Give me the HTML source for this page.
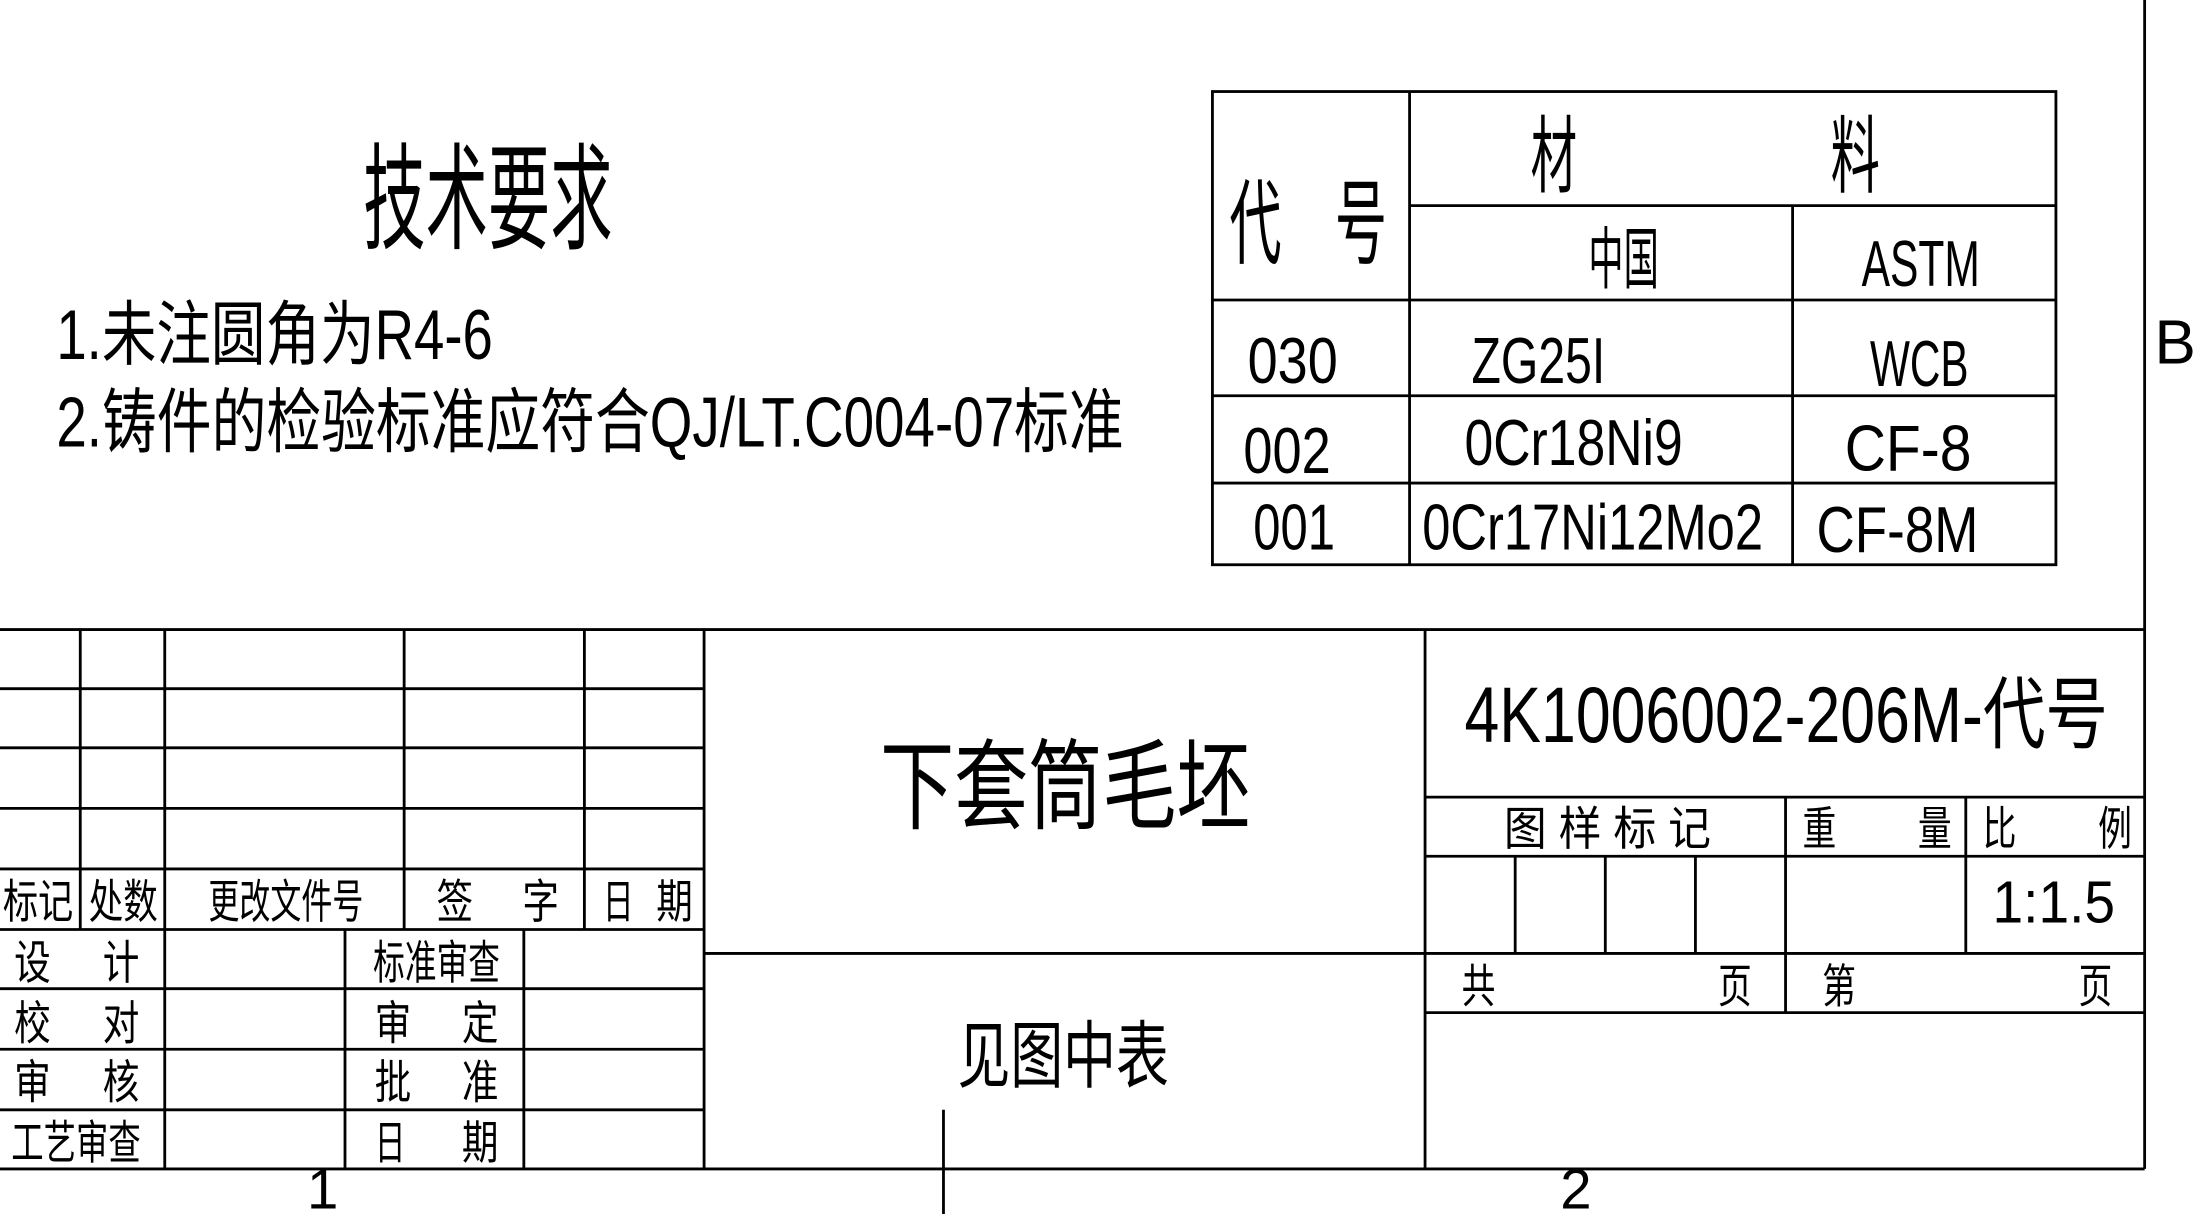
<!DOCTYPE html>
<html><head><meta charset="utf-8"><style>
html,body{margin:0;padding:0;background:#fff;width:2208px;height:1214px;overflow:hidden}
svg{display:block}
text{font-family:"Liberation Sans","Noto Sans CJK SC",sans-serif;fill:#000}
</style></head><body>
<svg width="2208" height="1214" viewBox="0 0 1568 862" preserveAspectRatio="none" xmlns="http://www.w3.org/2000/svg">
<g stroke="#000" stroke-width="2" fill="none">
<line x1="1523" y1="0" x2="1523" y2="830"/>
<line x1="0" y1="830" x2="1523" y2="830"/>
<line x1="670" y1="788" x2="670" y2="862"/>
<line x1="0" y1="447" x2="1523" y2="447"/>
<line x1="0" y1="489" x2="500" y2="489"/><line x1="0" y1="531" x2="500" y2="531"/>
<line x1="0" y1="574" x2="500" y2="574"/><line x1="0" y1="617" x2="500" y2="617"/>
<line x1="0" y1="660" x2="500" y2="660"/><line x1="0" y1="702" x2="500" y2="702"/>
<line x1="0" y1="745" x2="500" y2="745"/><line x1="0" y1="788" x2="500" y2="788"/>
<line x1="57" y1="447" x2="57" y2="660"/><line x1="117" y1="447" x2="117" y2="830"/>
<line x1="287" y1="447" x2="287" y2="660"/><line x1="415" y1="447" x2="415" y2="660"/>
<line x1="245" y1="660" x2="245" y2="830"/><line x1="372" y1="660" x2="372" y2="830"/>
<line x1="500" y1="447" x2="500" y2="830"/>
<line x1="500" y1="677" x2="1012" y2="677"/>
<line x1="1012" y1="447" x2="1012" y2="830"/>
<line x1="1012" y1="566" x2="1523" y2="566"/><line x1="1012" y1="608" x2="1523" y2="608"/>
<line x1="1012" y1="677" x2="1523" y2="677"/><line x1="1012" y1="719" x2="1523" y2="719"/>
<line x1="1268" y1="566" x2="1268" y2="719"/><line x1="1396" y1="566" x2="1396" y2="677"/>
<line x1="1076" y1="608" x2="1076" y2="677"/><line x1="1140" y1="608" x2="1140" y2="677"/>
<line x1="1204" y1="608" x2="1204" y2="677"/>
<rect x="861" y="65" width="599" height="336"/>
<line x1="1001" y1="65" x2="1001" y2="401"/>
<line x1="1001" y1="146" x2="1460" y2="146"/>
<line x1="861" y1="213" x2="1460" y2="213"/>
<line x1="861" y1="281" x2="1460" y2="281"/>
<line x1="861" y1="343" x2="1460" y2="343"/>
<line x1="1273" y1="146" x2="1273" y2="401"/>
</g>
<g>
<text x="1530" y="258" font-size="44">B</text>
<text x="218" y="858" font-size="40">1</text>
<text x="1108" y="858" font-size="40">2</text>
<text x="258" y="170" font-size="82" textLength="177" lengthAdjust="spacingAndGlyphs">技术要求</text>
<text x="40" y="255" font-size="50" textLength="310" lengthAdjust="spacingAndGlyphs">1.未注圆角为R4-6</text>
<text x="40" y="317" font-size="50" textLength="758" lengthAdjust="spacingAndGlyphs">2.铸件的检验标准应符合QJ/LT.C004-07标准</text>
<text x="873" y="182" font-size="66" textLength="37" lengthAdjust="spacingAndGlyphs">代</text>
<text x="948" y="182" font-size="66" textLength="37" lengthAdjust="spacingAndGlyphs">号</text>
<text x="1087" y="132" font-size="60" textLength="33" lengthAdjust="spacingAndGlyphs">材</text>
<text x="1300" y="132" font-size="60" textLength="35" lengthAdjust="spacingAndGlyphs">料</text>
<text x="1128" y="201" font-size="48" textLength="50" lengthAdjust="spacingAndGlyphs">中国</text>
<text x="1322" y="203" font-size="46" textLength="84" lengthAdjust="spacingAndGlyphs">ASTM</text>
<text x="886" y="272" font-size="46" textLength="64" lengthAdjust="spacingAndGlyphs">030</text>
<text x="1045" y="272" font-size="46" textLength="95" lengthAdjust="spacingAndGlyphs">ZG25I</text>
<text x="1328" y="274" font-size="46" textLength="70" lengthAdjust="spacingAndGlyphs">WCB</text>
<text x="883" y="336" font-size="46" textLength="62" lengthAdjust="spacingAndGlyphs">002</text>
<text x="1040" y="330" font-size="46" textLength="155" lengthAdjust="spacingAndGlyphs">0Cr18Ni9</text>
<text x="1310" y="334" font-size="46" textLength="90" lengthAdjust="spacingAndGlyphs">CF-8</text>
<text x="890" y="390" font-size="46" textLength="58" lengthAdjust="spacingAndGlyphs">001</text>
<text x="1010" y="390" font-size="46" textLength="242" lengthAdjust="spacingAndGlyphs">0Cr17Ni12Mo2</text>
<text x="1290" y="392" font-size="46" textLength="115" lengthAdjust="spacingAndGlyphs">CF-8M</text>
<text x="625" y="583" font-size="70" textLength="263" lengthAdjust="spacingAndGlyphs">下套筒毛坯</text>
<text x="1040" y="527" font-size="56" textLength="457" lengthAdjust="spacingAndGlyphs">4K1006002-206M-代号</text>
<text x="1068" y="600" font-size="33" textLength="147" lengthAdjust="spacingAndGlyphs">图 样 标 记</text>
<text x="1280" y="600" font-size="33" textLength="24" lengthAdjust="spacingAndGlyphs">重</text>
<text x="1362" y="600" font-size="33" textLength="24" lengthAdjust="spacingAndGlyphs">量</text>
<text x="1408" y="600" font-size="33" textLength="24" lengthAdjust="spacingAndGlyphs">比</text>
<text x="1490" y="600" font-size="33" textLength="24" lengthAdjust="spacingAndGlyphs">例</text>
<text x="1415" y="655" font-size="42" textLength="87" lengthAdjust="spacingAndGlyphs">1:1.5</text>
<text x="1038" y="712" font-size="33" textLength="24" lengthAdjust="spacingAndGlyphs">共</text>
<text x="1220" y="712" font-size="33" textLength="24" lengthAdjust="spacingAndGlyphs">页</text>
<text x="1294" y="712" font-size="33" textLength="24" lengthAdjust="spacingAndGlyphs">第</text>
<text x="1476" y="712" font-size="33" textLength="24" lengthAdjust="spacingAndGlyphs">页</text>
<text x="680" y="768" font-size="52" textLength="150" lengthAdjust="spacingAndGlyphs">见图中表</text>
<text x="2" y="652" font-size="33" textLength="50" lengthAdjust="spacingAndGlyphs">标记</text>
<text x="63" y="652" font-size="33" textLength="49" lengthAdjust="spacingAndGlyphs">处数</text>
<text x="148" y="652" font-size="33" textLength="110" lengthAdjust="spacingAndGlyphs">更改文件号</text>
<text x="310" y="652" font-size="33" textLength="26" lengthAdjust="spacingAndGlyphs">签</text>
<text x="371" y="652" font-size="33" textLength="26" lengthAdjust="spacingAndGlyphs">字</text>
<text x="428" y="652" font-size="33" textLength="22" lengthAdjust="spacingAndGlyphs">日</text>
<text x="466" y="652" font-size="33" textLength="26" lengthAdjust="spacingAndGlyphs">期</text>
<text x="10" y="695" font-size="33" textLength="26" lengthAdjust="spacingAndGlyphs">设</text>
<text x="73" y="695" font-size="33" textLength="26" lengthAdjust="spacingAndGlyphs">计</text>
<text x="10" y="738" font-size="33" textLength="26" lengthAdjust="spacingAndGlyphs">校</text>
<text x="73" y="738" font-size="33" textLength="26" lengthAdjust="spacingAndGlyphs">对</text>
<text x="10" y="780" font-size="33" textLength="26" lengthAdjust="spacingAndGlyphs">审</text>
<text x="73" y="780" font-size="33" textLength="26" lengthAdjust="spacingAndGlyphs">核</text>
<text x="8" y="823" font-size="33" textLength="92" lengthAdjust="spacingAndGlyphs">工艺审查</text>
<text x="265" y="695" font-size="33" textLength="90" lengthAdjust="spacingAndGlyphs">标准审查</text>
<text x="266" y="738" font-size="33" textLength="26" lengthAdjust="spacingAndGlyphs">审</text>
<text x="328" y="738" font-size="33" textLength="26" lengthAdjust="spacingAndGlyphs">定</text>
<text x="266" y="780" font-size="33" textLength="26" lengthAdjust="spacingAndGlyphs">批</text>
<text x="328" y="780" font-size="33" textLength="26" lengthAdjust="spacingAndGlyphs">准</text>
<text x="266" y="823" font-size="33" textLength="22" lengthAdjust="spacingAndGlyphs">日</text>
<text x="328" y="823" font-size="33" textLength="26" lengthAdjust="spacingAndGlyphs">期</text>
</g>
</svg>
</body></html>
